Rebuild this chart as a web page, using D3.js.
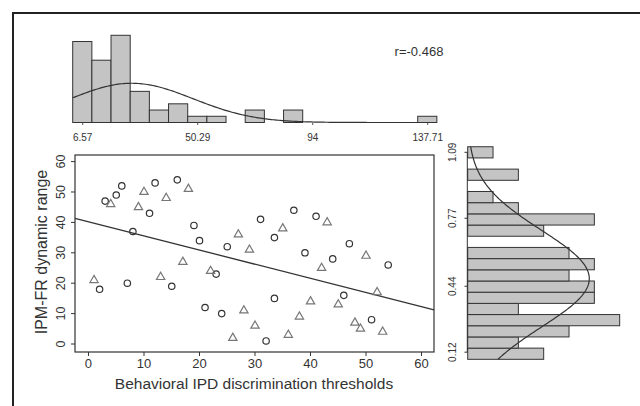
<!DOCTYPE html>
<meta charset="utf-8">
<style>
body { margin: 0; background: #fff; }
text { font-family: "Liberation Sans", Arial, sans-serif; fill: #333; }
.bar { fill: #c4c4c4; stroke: #333; stroke-width: 1; }
</style>
<svg width="640" height="406"></svg>
<script src="https://d3js.org/d3.v7.min.js"></script>
<script>
// scatter data
var circleX = [2, 3, 5, 6, 7, 8, 11, 12, 15, 16, 19, 20, 21, 23, 24, 25, 31, 32, 33.5, 33.5, 37, 39, 41, 44, 46, 47, 51, 54];
var circleY = [18, 47, 49, 52, 20, 37, 43, 53, 19, 54, 39, 34, 12, 23, 10, 32, 41, 1, 35, 15, 44, 30, 42, 28, 16, 33, 8, 26];
var triX = [1, 4, 9, 10, 13, 14, 17, 18, 22, 26, 27, 28, 29, 30, 35, 36, 38, 40, 42, 43, 45, 48, 49, 50, 52, 53];
var triY = [21, 46, 45, 50, 22, 48, 27, 51, 24, 2, 36, 11, 31, 6, 38, 3, 9, 14, 25, 40, 13, 7, 5, 29, 17, 4];
var xTicks = [0, 10, 20, 30, 40, 50, 60];
var yTicks = [0, 10, 20, 30, 40, 50, 60];
var fitIntercept = 40.2, fitSlope = -0.465;
var rLabel = "r=-0.468";

// top histogram
var topCounts = [13, 10, 14, 5, 2, 3, 1, 1, 0, 2, 0, 2, 0, 0, 0, 0, 0, 0, 1];
var topRange = [2.77, 141.2];
var topTicks = [6.57, 50.29, 94, 137.71];
var topFit = {mean: 25.2, sd: 23.3, peak: 6.3};

// right histogram (bins from low to high value)
var rightCounts = [3, 2, 4, 6, 2, 5, 5, 4, 5, 4, 0, 3, 5, 2, 1, 0, 2, 0, 1];
var rightRange = [0.0855, 1.117];
var rightTicks = [0.12, 0.44, 0.77, 1.09];
var rightFit = {mean: 0.477, sd: 0.235, peak: 4.8};

var svg = d3.select("svg");

svg.append("rect").attr("width", 640).attr("height", 406).attr("fill", "#fff");
// outer frame
svg.append("rect")
    .attr("x", 13).attr("y", 13).attr("width", 660).attr("height", 420)
    .attr("fill", "none").attr("stroke", "#222").attr("stroke-width", 2);

// ---------- scatter ----------
var x = d3.scaleLinear().domain([-2.43, 62.25]).range([75, 434]);
var y = d3.scaleLinear().domain([-2.63, 62.17]).range([352, 155]);

svg.append("rect")
    .attr("x", 75).attr("y", 155).attr("width", 359).attr("height", 197)
    .attr("fill", "none").attr("stroke", "#333").attr("stroke-width", 1.2);

var gx = svg.append("g");
gx.selectAll("line").data(xTicks).enter().append("line")
    .attr("x1", function(d) { return x(d); }).attr("x2", function(d) { return x(d); })
    .attr("y1", 352).attr("y2", 356).attr("stroke", "#333");
gx.selectAll("text").data(xTicks).enter().append("text")
    .attr("x", function(d) { return x(d); }).attr("y", 368)
    .attr("text-anchor", "middle").attr("font-size", 13)
    .text(function(d) { return d; });

var gy = svg.append("g");
gy.selectAll("line").data(yTicks).enter().append("line")
    .attr("x1", 71).attr("x2", 75)
    .attr("y1", function(d) { return y(d); }).attr("y2", function(d) { return y(d); })
    .attr("stroke", "#333");
gy.selectAll("text").data(yTicks).enter().append("text")
    .attr("transform", function(d) { return "translate(64.5," + y(d) + ") rotate(-90)"; })
    .attr("text-anchor", "middle").attr("font-size", 12.5)
    .text(function(d) { return d; });

svg.append("text")
    .attr("x", 254).attr("y", 389)
    .attr("text-anchor", "middle").attr("font-size", 15.5)
    .text("Behavioral IPD discrimination thresholds");
svg.append("text")
    .attr("transform", "translate(46.5,252) rotate(-90)")
    .attr("text-anchor", "middle").attr("font-size", 16)
    .text("IPM-FR dynamic range");

// fitted line
var xd = x.domain();
svg.append("line")
    .attr("x1", x(xd[0])).attr("y1", y(fitIntercept + fitSlope * xd[0]))
    .attr("x2", x(xd[1])).attr("y2", y(fitIntercept + fitSlope * xd[1]))
    .attr("stroke", "#333").attr("stroke-width", 1.3);

svg.append("g").selectAll("circle").data(d3.zip(circleX, circleY)).enter().append("circle")
    .attr("cx", function(d) { return x(d[0]); })
    .attr("cy", function(d) { return y(d[1]); })
    .attr("r", 3.2)
    .attr("fill", "none").attr("stroke", "#333").attr("stroke-width", 1.2);

var tri = d3.symbol().type(d3.symbolTriangle).size(30);
svg.append("g").selectAll("path").data(d3.zip(triX, triY)).enter().append("path")
    .attr("d", tri)
    .attr("transform", function(d) { return "translate(" + x(d[0]) + "," + y(d[1]) + ")"; })
    .attr("fill", "none").attr("stroke", "#777").attr("stroke-width", 1.2);

// ---------- top histogram ----------
var hx = d3.scaleLinear().domain([6.57, 137.71]).range([82.7, 427.7]);
var hy = d3.scaleLinear().domain([0, 1]).range([122.5, 116.27]);
var topW = (topRange[1] - topRange[0]) / topCounts.length;

svg.append("g").selectAll("rect").data(topCounts).enter().append("rect")
    .attr("class", "bar")
    .attr("x", function(d, i) { return hx(topRange[0] + i * topW); })
    .attr("width", hx(topRange[0] + topW) - hx(topRange[0]))
    .attr("y", function(d) { return hy(d); })
    .attr("height", function(d) { return hy(0) - hy(d); })
    .style("display", function(d) { return d > 0 ? null : "none"; });

svg.append("g").selectAll("line").data(topTicks).enter().append("line")
    .attr("x1", function(d) { return hx(d); }).attr("x2", function(d) { return hx(d); })
    .attr("y1", 122.5).attr("y2", 125).attr("stroke", "#555");
svg.append("g").selectAll("text").data(topTicks).enter().append("text")
    .attr("x", function(d) { return hx(d); }).attr("y", 141)
    .attr("text-anchor", "middle").attr("font-size", 10)
    .text(function(d) { return d; });

var topCurve = d3.range(0, 201).map(function(i) {
  var v = topRange[0] + (topRange[1] - topRange[0]) * i / 200;
  var z = (v - topFit.mean) / topFit.sd;
  return [hx(v), hy(topFit.peak * Math.exp(-0.5 * z * z))];
});
svg.append("path").attr("d", d3.line()(topCurve))
    .attr("fill", "none").attr("stroke", "#333").attr("stroke-width", 1.2);

svg.append("text")
    .attr("x", 419).attr("y", 56)
    .attr("text-anchor", "middle").attr("font-size", 13)
    .text(rLabel);

// ---------- right histogram ----------
var ry = d3.scaleLinear().domain([0.12, 1.09]).range([352.2, 152.3]);
var rx = d3.scaleLinear().domain([0, 1]).range([467.7, 493.03]);
var rightW = (rightRange[1] - rightRange[0]) / rightCounts.length;

svg.append("g").selectAll("rect").data(rightCounts).enter().append("rect")
    .attr("class", "bar")
    .attr("x", rx(0))
    .attr("width", function(d) { return rx(d) - rx(0); })
    .attr("y", function(d, i) { return ry(rightRange[0] + (i + 1) * rightW); })
    .attr("height", ry(rightRange[0]) - ry(rightRange[0] + rightW))
    .style("display", function(d) { return d > 0 ? null : "none"; });

svg.append("line")
    .attr("x1", 467.3).attr("x2", 467.3)
    .attr("y1", ry(rightTicks[0])).attr("y2", ry(rightTicks[3]))
    .attr("stroke", "#333");
svg.append("g").selectAll("line").data(rightTicks).enter().append("line")
    .attr("x1", 464.5).attr("x2", 467.3)
    .attr("y1", function(d) { return ry(d); }).attr("y2", function(d) { return ry(d); })
    .attr("stroke", "#333");
svg.append("g").selectAll("text").data(rightTicks).enter().append("text")
    .attr("transform", function(d) { return "translate(456," + ry(d) + ") rotate(-90)"; })
    .attr("text-anchor", "middle").attr("font-size", 10)
    .text(function(d) { return d.toFixed(2); });

var rightCurve = d3.range(0, 201).map(function(i) {
  var v = rightRange[0] + (rightRange[1] - rightRange[0]) * i / 200;
  var z = (v - rightFit.mean) / rightFit.sd;
  return [rx(rightFit.peak * Math.exp(-0.5 * z * z)), ry(v)];
});
svg.append("path").attr("d", d3.line()(rightCurve))
    .attr("fill", "none").attr("stroke", "#333").attr("stroke-width", 1.2);
</script>
